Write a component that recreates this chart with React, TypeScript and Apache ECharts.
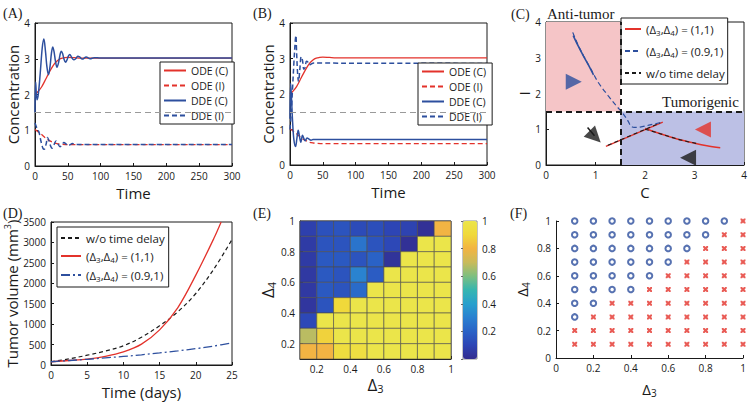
import React, { useEffect, useRef } from "react";
import * as echarts from "echarts";

const FONT = "'Open Sans', 'DejaVu Sans', sans-serif";
const SERIF = "'Liberation Serif', 'DejaVu Serif', serif";
const RED = "#e3322b";
const BLUE = "#2d4f9e";
const BLACK = "#1a1a1a";
const GREY = "#9a9a9a";
const PINK = "#f5c5c7";
const LAVENDER = "#bcc0e5";

// ---------- Panels A & B : ODE model (identical in both panels)
const ODE_C_T = [0, 5, 10, 15, 20, 25, 30, 35, 40, 45, 50, 60, 70, 300];
const ODE_C_V = [2.0, 2.09, 2.21, 2.38, 2.56, 2.73, 2.87, 2.96, 3.01, 3.03, 3.04, 3.03, 3.02, 3.02];
const ODE_I_T = [0, 5, 10, 15, 20, 25, 30, 35, 40, 50, 300];
const ODE_I_V = [1.02, 0.95, 0.88, 0.8, 0.73, 0.68, 0.64, 0.62, 0.61, 0.6, 0.6];
const THRESHOLD = 1.5;

// Panel A : DDE
const A_DDE_C_T = [0, 1, 3, 5, 8, 11, 13.5, 16, 18, 20.5, 23, 25, 27, 29, 31, 33.5, 36, 38, 40, 42, 44, 46.5, 49, 51, 53, 55.5, 59, 62, 65, 68, 72, 78, 84, 90, 100, 300];
const A_DDE_C_V = [1.5, 2.35, 1.85, 2.0, 2.6, 3.3, 3.55, 3.2, 2.8, 2.55, 2.8, 3.15, 3.33, 3.2, 2.95, 2.76, 2.9, 3.1, 3.21, 3.15, 3.0, 2.9, 2.98, 3.08, 3.12, 3.05, 2.97, 3.0, 3.07, 3.05, 2.99, 3.05, 3.0, 3.03, 3.02, 3.02];
const A_DDE_I_T = [0, 3, 6, 9, 12, 14, 17, 19, 21, 24, 26, 29, 32, 35, 38, 41, 44, 47, 50, 53, 57, 62, 70, 300];
const A_DDE_I_V = [1.2, 1.05, 0.95, 0.7, 0.5, 0.47, 0.62, 0.8, 0.72, 0.55, 0.5, 0.6, 0.7, 0.62, 0.54, 0.58, 0.66, 0.62, 0.57, 0.59, 0.63, 0.6, 0.6, 0.6];

// Panel B : DDE
const B_DDE_C_T = [0, 1, 2, 4, 6, 8.5, 10.5, 12.5, 14.5, 16.5, 19, 21, 23, 26, 29, 32, 35, 300];
const B_DDE_C_V = [1.3, 2.3, 2.0, 1.2, 0.7, 0.52, 0.75, 0.98, 0.8, 0.64, 0.84, 0.75, 0.68, 0.76, 0.73, 0.7, 0.72, 0.72];
const B_DDE_I_T = [0, 2, 4, 6, 8, 9, 10, 11.5, 13, 15, 17, 19, 21, 23, 25, 27, 29, 32, 36, 300];
const B_DDE_I_V = [1.0, 1.5, 2.2, 2.9, 3.5, 3.65, 3.2, 2.6, 2.35, 2.7, 3.05, 2.95, 2.7, 2.75, 2.92, 2.9, 2.82, 2.84, 2.87, 2.86];

// ---------- Panel C : phase plane (C, I)
const C_RED_1 = [[1.21, 0.52], [2.36, 1.2]];
const C_RED_2 = [[2.0, 1.02], [2.25, 0.9], [2.5, 0.79], [2.75, 0.69], [3.0, 0.61], [3.25, 0.54], [3.52, 0.48]];
const C_BLUE = [[0.54, 3.71], [0.65, 3.35], [0.76, 3.05], [0.9, 2.7], [1.06, 2.3], [1.25, 1.95], [1.43, 1.64], [1.55, 1.45], [1.65, 1.25], [1.71, 1.1], [1.78, 1.05], [1.9, 1.06], [2.1, 1.12], [2.36, 1.2]];
const C_BLUE_SOLID = [[0.55, 3.62], [0.65, 3.33], [0.76, 3.04], [0.88, 2.74], [0.96, 2.52]];
const C_BLACK_1 = [[1.25, 0.55], [2.3, 1.17]];
const C_BLACK_2 = [[2.0, 1.0], [2.25, 0.9], [2.5, 0.79], [2.75, 0.69], [3.05, 0.6]];
const C_ARROW_TAIL = [[0.84, 1.05], [0.98, 0.82]];
const C_ARROWS = [
  { at: [0.56, 2.33], rot: -90, color: BLUE },
  { at: [3.17, 0.99], rot: 90, color: RED },
  { at: [2.87, 0.2], rot: 90, color: BLACK },
  { at: [0.99, 0.79], rot: -135, color: BLACK },
];
const C_SPLIT = 1.5;

// ---------- Panel D : tumour volume
const D_T = [0, 2.5, 5, 7.5, 10, 12.5, 15, 17.5, 20, 22.5, 25];
const D_NO_DELAY = [80, 150, 240, 340, 470, 680, 960, 1300, 1750, 2350, 3070];
const D_RED_T = [0, 2.5, 5, 7.5, 10, 12.5, 15, 17.5, 20, 22.5, 23.5];
const D_RED = [80, 110, 145, 210, 320, 510, 860, 1400, 2200, 3100, 3500];
const D_BLUE = [80, 110, 140, 175, 210, 250, 295, 345, 400, 465, 540];

// ---------- Panel E : heat map (rows: Δ4 from top 0.9–1.0 to bottom 0.1–0.2; cols: Δ3 0.1–0.2 ... 0.9–1.0)
const DELTA = [0.1, 0.2, 0.3, 0.4, 0.5, 0.6, 0.7, 0.8, 0.9, 1.0];
const E_HEAT = [
  [0.08, 0.14, 0.15, 0.12, 0.13, 0.1, 0.09, 0.02, 0.8],
  [0.06, 0.15, 0.15, 0.26, 0.15, 0.11, 0.02, 1, 1],
  [0.06, 0.17, 0.17, 0.15, 0.2, 0.03, 1, 1, 1],
  [0.05, 0.17, 0.15, 0.31, 0.18, 1, 1, 1, 1],
  [0.05, 0.17, 0.15, 0.23, 1, 1, 1, 1, 1],
  [0.04, 0.15, 0.9, 1, 1, 1, 1, 1, 1],
  [0.11, 1, 1, 1, 1, 1, 1, 1, 1],
  [0.68, 0.88, 1, 1, 1, 1, 1, 1, 1],
  [0.8, 0.8, 0.93, 0.95, 1, 1, 1, 1, 1],
];
const E_TICKS = [0.2, 0.4, 0.6, 0.8, 1];
const PARULA = ["#332c8e", "#2d45b5", "#2a62c6", "#2a80d0", "#28a0cd", "#36b5b0", "#7dbf80", "#c9bb5a", "#f2b443", "#f0d93a", "#ebe54a"];

// ---------- Panel F : classification (1 = circle, 0 = cross); rows Δ4 = 1.0 down to 0.1, cols Δ3 = 0.1 ... 1.0
const F_CLASS = [
  [1, 1, 1, 1, 1, 1, 1, 1, 1, 0],
  [1, 1, 1, 1, 1, 1, 1, 1, 0, 0],
  [1, 1, 1, 1, 1, 1, 1, 0, 0, 0],
  [1, 1, 1, 1, 1, 1, 0, 0, 0, 0],
  [1, 1, 1, 1, 1, 0, 0, 0, 0, 0],
  [1, 1, 1, 1, 0, 0, 0, 0, 0, 0],
  [1, 1, 0, 0, 0, 0, 0, 0, 0, 0],
  [1, 0, 0, 0, 0, 0, 0, 0, 0, 0],
  [0, 0, 0, 0, 0, 0, 0, 0, 0, 0],
  [0, 0, 0, 0, 0, 0, 0, 0, 0, 0],
];

const pairs = (t: number[], v: number[]) => t.map((x, i) => [x, v[i]]);

const SUB_RICH = {
  s: { fontSize: 8, verticalAlign: "bottom", padding: [6, 0, 0, 0], fontFamily: FONT, color: BLACK },
};
const LEGEND_NAMES: Record<string, string> = {
  C1: "(Δ{s|3},Δ{s|4}) = (1,1)",
  C2: "(Δ{s|3},Δ{s|4}) = (0.9,1)",
  C3: "w/o time delay",
  D1: "(Δ{s|3},Δ{s|4}) = (1,1)",
  D2: "(Δ{s|3},Δ{s|4}) = (0.9,1)",
  D3: "w/o time delay",
};

function lineSeries(name: string | undefined, idx: number, data: number[][], color: string, dash: any, width = 1.3, extra: any = {}) {
  return {
    type: "line",
    name,
    xAxisIndex: idx,
    yAxisIndex: idx,
    data,
    symbol: "none",
    showSymbol: false,
    smooth: 0.35,
    silent: true,
    lineStyle: { color, type: dash, width },
    itemStyle: { color },
    z: 3,
    ...extra,
  };
}

const plainNumber = (v: number) => String(v);

function valAxis(gridIndex: number, o: any = {}) {
  return {
    type: "value",
    gridIndex,
    nameLocation: "middle",
    axisLine: { show: true, onZero: false, lineStyle: { color: BLACK, width: 1 } },
    axisTick: { show: true, inside: true, length: 3, lineStyle: { color: BLACK } },
    axisLabel: { fontSize: 10, color: BLACK, fontFamily: FONT, margin: 5, formatter: plainNumber },
    splitLine: { show: false },
    nameTextStyle: { fontSize: 15, color: BLACK, fontFamily: FONT },
    ...o,
  };
}

const DELTA_NAME_STYLE = {
  fontSize: 17,
  color: BLACK,
  fontFamily: FONT,
  rich: {
    d: { fontSize: 17, fontFamily: FONT, color: BLACK },
    s: { fontSize: 11, fontFamily: FONT, color: BLACK, verticalAlign: "bottom", padding: [9, 0, 0, 0] },
  },
};
const DELTA_NAME_STYLE_F = {
  fontSize: 15,
  color: BLACK,
  fontFamily: FONT,
  rich: {
    d: { fontSize: 15, fontFamily: FONT, color: BLACK },
    s: { fontSize: 10, fontFamily: FONT, color: BLACK, verticalAlign: "bottom", padding: [8, 0, 0, 0] },
  },
};

function buildOption() {
  const series: any[] = [];
  const markThreshold = {
    silent: true,
    symbol: "none",
    label: { show: false },
    lineStyle: { color: GREY, type: [6, 4], width: 1 },
    data: [{ yAxis: THRESHOLD }],
  };

  // A
  series.push(lineSeries("ODE (C)", 0, pairs(ODE_C_T, ODE_C_V), RED, "solid", 1.3, { markLine: markThreshold }));
  series.push(lineSeries("ODE (I)", 0, pairs(ODE_I_T, ODE_I_V), RED, [5, 3]));
  series.push(lineSeries("DDE (C)", 0, pairs(A_DDE_C_T, A_DDE_C_V), BLUE, "solid", 1.5));
  series.push(lineSeries("DDE (I)", 0, pairs(A_DDE_I_T, A_DDE_I_V), BLUE, [5, 3], 1.5));
  // B
  series.push(lineSeries("ODE (C)", 1, pairs(ODE_C_T, ODE_C_V), RED, "solid", 1.3, { markLine: markThreshold }));
  series.push(lineSeries("ODE (I)", 1, pairs(ODE_I_T, ODE_I_V), RED, [5, 3]));
  series.push(lineSeries("DDE (C)", 1, pairs(B_DDE_C_T, B_DDE_C_V), BLUE, "solid", 1.5));
  series.push(lineSeries("DDE (I)", 1, pairs(B_DDE_I_T, B_DDE_I_V), BLUE, [5, 3], 1.5));

  // C
  series.push(
    lineSeries("C1", 2, C_RED_1, RED, "solid", 1.3, {
      smooth: false,
      z: 2,
      markArea: {
        silent: true,
        data: [
          [{ coord: [0, C_SPLIT], itemStyle: { color: PINK, opacity: 1 } }, { coord: [C_SPLIT, 4] }],
          [{ coord: [C_SPLIT, 0], itemStyle: { color: LAVENDER, opacity: 1 } }, { coord: [4, C_SPLIT] }],
        ],
      },
    })
  );
  series.push(lineSeries("C1", 2, C_RED_2, RED, "solid", 1.5));
  series.push(lineSeries("C2", 2, C_BLUE, BLUE, [5, 3], 1.2));
  series.push(lineSeries(undefined, 2, C_BLUE_SOLID, BLUE, "solid", 1.6));
  series.push(
    lineSeries("C3", 2, C_BLACK_1, BLACK, [4, 3], 1.1, {
      smooth: false,
      markLine: {
        silent: true,
        symbol: "none",
        label: { show: false },
        lineStyle: { color: BLACK, type: [6, 4], width: 2 },
        data: [{ xAxis: C_SPLIT }, { yAxis: C_SPLIT }],
      },
    })
  );
  series.push(lineSeries("C3", 2, C_BLACK_2, BLACK, [4, 3], 1.1));
  series.push(lineSeries(undefined, 2, C_ARROW_TAIL, BLACK, "solid", 1.5, { smooth: false }));
  series.push({
    type: "scatter",
    xAxisIndex: 2,
    yAxisIndex: 2,
    symbol: "triangle",
    symbolSize: 16,
    silent: true,
    z: 5,
    data: C_ARROWS.map((a) => ({ value: a.at, symbolRotate: a.rot, itemStyle: { color: a.color } })),
  });

  // D
  series.push(lineSeries("D3", 3, pairs(D_T, D_NO_DELAY), BLACK, [4, 3], 1.2));
  series.push(lineSeries("D1", 3, pairs(D_RED_T, D_RED), RED, "solid", 1.3));
  series.push(lineSeries("D2", 3, pairs(D_T, D_BLUE), BLUE, [9, 3, 2, 3], 1.3));

  // E
  const eData: number[][] = [];
  E_HEAT.forEach((row, r) => {
    row.forEach((v, c) => {
      eData.push([DELTA[c], DELTA[8 - r], v]);
    });
  });
  const heatIndex = series.length;
  series.push({
    type: "custom",
    xAxisIndex: 4,
    yAxisIndex: 4,
    silent: true,
    encode: { x: 0, y: 1 },
    data: eData,
    renderItem: (params: any, api: any) => {
      const c = api.value(0);
      const r = api.value(1);
      const ci = DELTA.indexOf(c);
      const ri = DELTA.indexOf(r);
      const a = api.coord([c, DELTA[ri + 1]]);
      const b = api.coord([DELTA[ci + 1], r]);
      return {
        type: "rect",
        shape: { x: a[0], y: a[1], width: b[0] - a[0], height: b[1] - a[1] },
        style: { fill: api.visual("color"), stroke: "#4a4a4a", lineWidth: 0.6 },
      };
    },
  });

  // F
  const circles: number[][] = [];
  const crosses: number[][] = [];
  F_CLASS.forEach((row, r) => {
    row.forEach((k, c) => {
      const p = [DELTA[c], DELTA[9 - r]];
      (k ? circles : crosses).push(p);
    });
  });
  series.push({
    type: "scatter",
    xAxisIndex: 5,
    yAxisIndex: 5,
    symbol: "circle",
    symbolSize: 5.5,
    silent: true,
    clip: false,
    itemStyle: { color: "#ffffff", borderColor: BLUE, borderWidth: 2 },
    data: circles,
  });
  series.push({
    type: "scatter",
    xAxisIndex: 5,
    yAxisIndex: 5,
    symbol: "path://M0,0L3,0L5,2L7,0L10,0L10,3L8,5L10,7L10,10L7,10L5,8L3,10L0,10L0,7L2,5L0,3Z",
    symbolSize: 5,
    silent: true,
    clip: false,
    itemStyle: { color: RED },
    data: crosses,
  });

  const legendBase = {
    orient: "vertical",
    backgroundColor: "#ffffff",
    borderColor: BLACK,
    borderWidth: 1,
    borderRadius: 0,
    padding: [3, 6, 3, 3],
    itemGap: 4,
    itemWidth: 22,
    itemHeight: 10,
    selectedMode: false,
    itemStyle: { opacity: 0, borderWidth: 0 },
    textStyle: { fontSize: 10, color: BLACK, fontFamily: FONT },
  };

  const graphicText = (text: string, left: number, top: number, size = 14) => ({
    type: "text",
    left,
    top,
    silent: true,
    style: { text, fontSize: size, fontFamily: SERIF, fill: BLACK },
  });

  return {
    animation: false,
    backgroundColor: "#ffffff",
    textStyle: { fontFamily: FONT },
    grid: [
      { left: 35, top: 23, width: 197, height: 143, show: true, borderColor: BLACK, borderWidth: 1 },
      { left: 290, top: 23, width: 197, height: 142, show: true, borderColor: BLACK, borderWidth: 1 },
      { left: 546, top: 22, width: 198, height: 143, show: true, borderColor: BLACK, borderWidth: 1 },
      { left: 51, top: 222, width: 181, height: 143, show: true, borderColor: BLACK, borderWidth: 1 },
      { left: 300, top: 221, width: 151, height: 138, show: true, borderColor: BLACK, borderWidth: 1 },
      { left: 556, top: 221, width: 187, height: 137, show: false },
      { left: 463, top: 221, width: 14, height: 138, show: true, borderColor: "#8a8a8a", borderWidth: 1 },
    ],
    xAxis: [
      valAxis(0, { min: 0, max: 300, interval: 50, name: "Time", nameGap: 19 }),
      valAxis(1, { min: 0, max: 300, interval: 50, name: "Time", nameGap: 19 }),
      valAxis(2, { min: 0, max: 4, interval: 1, name: "C", nameGap: 19 }),
      valAxis(3, { min: 0, max: 25, interval: 5, name: "Time (days)", nameGap: 19 }),
      valAxis(4, {
        min: 0.1,
        max: 1,
        name: "{d|Δ}{s|3}",
        nameGap: 15,
        nameTextStyle: DELTA_NAME_STYLE,
        axisTick: { show: true, inside: true, length: 3, customValues: E_TICKS, lineStyle: { color: BLACK } },
        axisLabel: { fontSize: 10, color: BLACK, fontFamily: FONT, margin: 5, customValues: E_TICKS, formatter: plainNumber },
      }),
      valAxis(5, { min: 0, max: 1, interval: 0.2, name: "{d|Δ}{s|3}", nameGap: 22, nameTextStyle: DELTA_NAME_STYLE_F }),
      { type: "value", gridIndex: 6, show: false, min: 0, max: 1 },
    ],
    yAxis: [
      valAxis(0, { min: 0, max: 4, interval: 1, name: "Concentration", nameGap: 12 }),
      valAxis(1, { min: 0, max: 4, interval: 1, name: "Concentration", nameGap: 10 }),
      valAxis(2, { min: 0, max: 4, interval: 1, name: "I", nameGap: 11 }),
      valAxis(3, {
        min: 0,
        max: 3500,
        interval: 500,
        name: "Tumor volume (mm{p|3})",
        nameGap: 31,
        nameTextStyle: {
          fontSize: 15,
          color: BLACK,
          fontFamily: FONT,
          rich: { p: { fontSize: 9, fontFamily: FONT, color: BLACK, verticalAlign: "top", padding: [0, 0, 8, 0] } },
        },
      }),
      valAxis(4, {
        min: 0.1,
        max: 1,
        name: "{d|Δ}{s|4}",
        nameGap: 20,
        nameTextStyle: DELTA_NAME_STYLE,
        axisTick: { show: true, inside: true, length: 3, customValues: E_TICKS, lineStyle: { color: BLACK } },
        axisLabel: { fontSize: 10, color: BLACK, fontFamily: FONT, margin: 5, customValues: E_TICKS, formatter: plainNumber },
      }),
      valAxis(5, { min: 0, max: 1, interval: 0.2, name: "{d|Δ}{s|4}", nameGap: 25, nameTextStyle: DELTA_NAME_STYLE_F }),
      {
        type: "value",
        gridIndex: 6,
        position: "right",
        min: 0,
        max: 1,
        interval: 0.2,
        axisLine: { show: false },
        axisTick: { show: true, inside: true, length: 2, lineStyle: { color: "#666" } },
        splitLine: { show: false },
        axisLabel: { fontSize: 10, color: BLACK, fontFamily: FONT, margin: 5, formatter: (v: number) => (v === 0 ? "" : String(v)) },
      },
    ],
    visualMap: [
      {
        type: "continuous",
        seriesIndex: heatIndex,
        dimension: 2,
        min: 0,
        max: 1,
        calculable: false,
        show: true,
        left: 463,
        top: 221,
        padding: 0,
        itemWidth: 14,
        itemHeight: 138,
        inRange: { color: PARULA },
      },
    ],
    legend: [
      { ...legendBase, left: 160, top: 62, textStyle: { fontSize: 10.5, color: BLACK, fontFamily: FONT }, data: ["ODE (C)", "ODE (I)", "DDE (C)", "DDE (I)"] },
      { ...legendBase, left: 418, top: 63, textStyle: { fontSize: 10.5, color: BLACK, fontFamily: FONT }, data: ["ODE (C)", "ODE (I)", "DDE (C)", "DDE (I)"] },
      {
        ...legendBase,
        left: 621,
        top: 18,
        itemWidth: 16,
        itemGap: 9,
        padding: [5, 3, 5, 3],
        data: ["C1", "C2", "C3"],
        formatter: (n: string) => LEGEND_NAMES[n],
        textStyle: { fontSize: 11.5, color: BLACK, fontFamily: FONT, rich: SUB_RICH },
      },
      {
        ...legendBase,
        left: 57,
        top: 227,
        itemWidth: 20,
        itemGap: 6,
        padding: [5, 4, 5, 3],
        data: ["D3", "D1", "D2"],
        formatter: (n: string) => LEGEND_NAMES[n],
        textStyle: { fontSize: 11.5, color: BLACK, fontFamily: FONT, rich: SUB_RICH },
      },
    ],
    graphic: [
      graphicText("(A)", 3, 6),
      graphicText("(B)", 253, 6),
      graphicText("(C)", 511, 7),
      graphicText("(D)", 3, 206),
      graphicText("(E)", 253, 206),
      graphicText("(F)", 510, 206),
      graphicText("Anti-tumor", 547, 6, 15),
      graphicText("Tumorigenic", 662, 94, 15),
    ],
    series,
  };
}

export default function App() {
  const ref = useRef<HTMLDivElement>(null);
  useEffect(() => {
    if (!ref.current) return;
    const chart = echarts.init(ref.current, null, { renderer: "svg" });
    chart.setOption(buildOption() as any);
    return () => chart.dispose();
  }, []);
  return (
    <div
      ref={ref}
      style={{ position: "fixed", left: 0, top: 0, width: 750, height: 403, background: "#fff" }}
    />
  );
}
